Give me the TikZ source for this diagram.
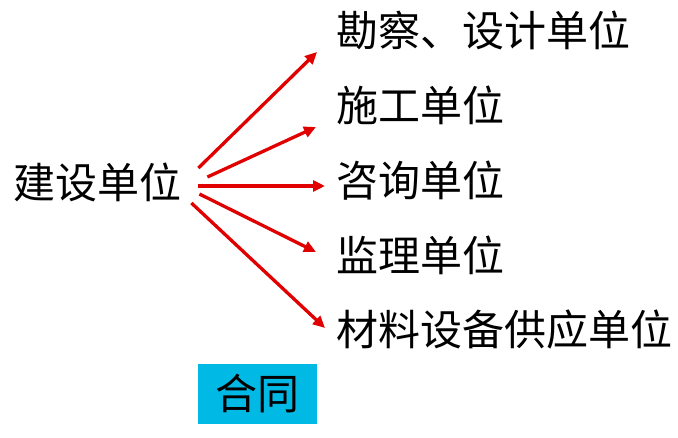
\documentclass[tikz,border=0pt]{standalone}
\usepackage{fontspec}
\newfontfamily\cjk{Noto Sans CJK SC}
\usetikzlibrary{arrows.meta}
\definecolor{hetong}{RGB}{0,185,228}
\definecolor{jiantou}{RGB}{225,0,0}
\begin{document}
\begin{tikzpicture}[x=1pt,y=-1pt,
    danwei/.style={font=\cjk\fontsize{42}{50}\selectfont, inner sep=0pt, anchor=west},
    jt/.style={draw=jiantou, line width=3.3pt, -{Triangle[length=12pt,width=11pt]}}]
  \useasboundingbox (0,0) rectangle (678,438);
  \node[danwei] (js) at (13,182) {建设单位};
  \node[danwei] (kc) at (336,30) {勘察、设计单位};
  \node[danwei] (sg) at (336,105) {施工单位};
  \node[danwei] (zx) at (336,181) {咨询单位};
  \node[danwei] (jl) at (336,255) {监理单位};
  \node[danwei] (cl) at (336,330) {材料设备供应单位};
  \node[danwei, anchor=center, fill=hetong, minimum width=119pt, minimum height=60pt] (ht) at (257.5,394) {合同};
  % arrows
  \draw[jt] ([shift={(17,-14)}]js.east) -- ([shift={(-19,22)}]kc.west);
  \draw[jt] ([shift={(26,-5)}]js.east) -- ([shift={(-20,22)}]sg.west);
  \draw[jt] ([shift={(17,4)}]js.east) -- ([shift={(-11,5)}]zx.west);
  \draw[jt] ([shift={(18,12)}]js.east) -- ([shift={(-20,-3)}]jl.west);
  \draw[jt] ([shift={(10,21)}]js.east) -- ([shift={(-11,-2)}]cl.west);
\end{tikzpicture}
\end{document}
